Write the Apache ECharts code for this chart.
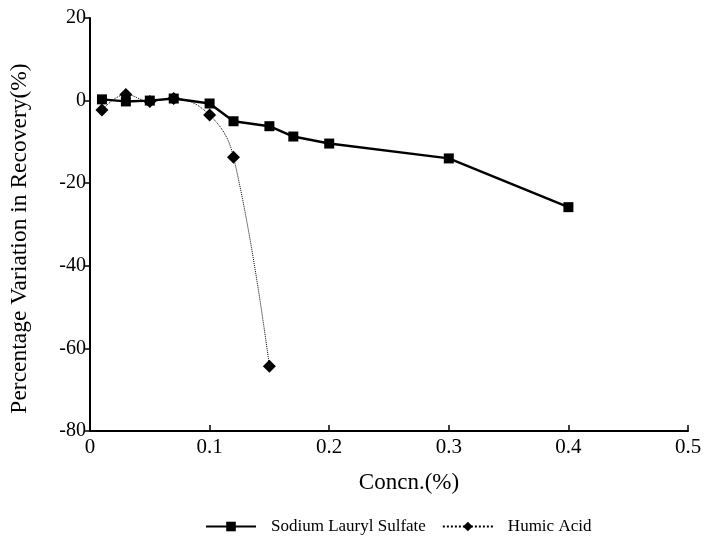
<!DOCTYPE html>
<html>
<head>
<meta charset="utf-8">
<script src="https://cdn.jsdelivr.net/npm/echarts@6/dist/echarts.min.js"></script>
<style>
  html, body { margin: 0; padding: 0; background: #fff; }
  #chart { width: 708px; height: 544px; }
</style>
</head>
<body>
<div id="chart"></div>
<script>
// data
const slsConc = [0.01, 0.03, 0.05, 0.07, 0.1, 0.12, 0.15, 0.17, 0.2, 0.3, 0.4]
const slsVar  = [0.3, -0.2, 0, 0.5, -0.7, -5, -6.2, -8.7, -10.4, -14, -25.8]

const humicConc = [0.01, 0.03, 0.05, 0.07, 0.1, 0.12, 0.15]
const humicVar  = [-2.3, 1.5, -0.2, 0.5, -3.5, -13.7, -64.3]

const FONT = "Liberation Serif"

const chart = echarts.init(document.getElementById("chart"))

chart.setOption({
  animation: false,
  grid: { left: 86, right: 20, top: 18, bottom: 113 },
  xAxis: {
    type: "value",
    min: 0, max: 0.5, interval: 0.1,
    name: "Concn.(%)",
    nameLocation: "middle",
    nameGap: 40,
    nameTextStyle: { fontFamily: FONT, fontSize: 23, color: "#000", padding: [0, 0, 0, 40] },
    axisLine: { onZero: false, lineStyle: { color: "#000", width: 2 } },
    axisTick: { inside: true, length: 6, lineStyle: { color: "#000", width: 1.5 } },
    axisLabel: { fontFamily: FONT, fontSize: 21, color: "#000", margin: 6 },
    splitLine: { show: false }
  },
  yAxis: {
    type: "value",
    min: -80, max: 20, interval: 20,
    name: "Percentage Variation in Recovery(%)",
    nameLocation: "middle",
    nameGap: 58,
    nameTextStyle: { fontFamily: FONT, fontSize: 23.5, color: "#000", padding: [0, 28, 0, 0] },
    axisLine: { lineStyle: { color: "#000", width: 2 } },
    axisTick: { length: 5, lineStyle: { color: "#000", width: 1.5 } },
    axisLabel: { fontFamily: FONT, fontSize: 20, color: "#000", margin: 4 },
    splitLine: { show: false }
  },
  legend: {
    bottom: 4,
    left: 200,
    itemWidth: 50,
    itemHeight: 12,
    itemGap: 16,
    textStyle: { fontFamily: FONT, fontSize: 17, color: "#000", padding: [0, 0, 0, 10] },
    data: ["Sodium Lauryl Sulfate", "Humic Acid"]
  },
  series: [
    {
      name: "Sodium Lauryl Sulfate",
      type: "line",
      data: slsConc.map((x, i) => [x, slsVar[i]]),
      symbol: "rect",
      symbolSize: 10,
      itemStyle: { color: "#000" },
      lineStyle: { color: "#000", width: 2.4 },
      z: 3
    },
    {
      name: "Humic Acid",
      type: "line",
      data: humicConc.map((x, i) => [x, humicVar[i]]),
      symbol: "diamond",
      symbolSize: 13,
      smooth: 0.4,
      itemStyle: { color: "#000" },
      lineStyle: { color: "#000", width: 1, type: "dotted" },
      z: 2
    }
  ]
})
</script>
</body>
</html>
